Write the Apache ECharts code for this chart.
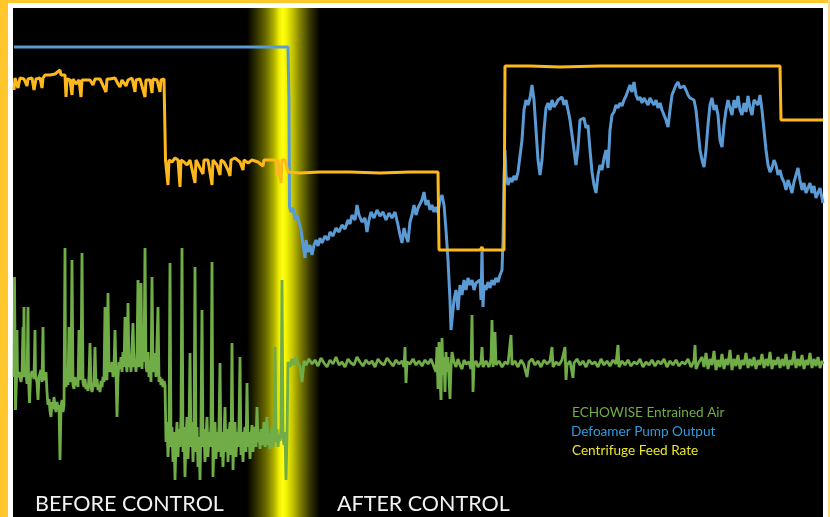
<!DOCTYPE html>
<html>
<head>
<meta charset="utf-8">
<script src="https://cdn.jsdelivr.net/npm/echarts@6/dist/echarts.min.js"></script>
<style>
html,body{margin:0;padding:0;background:#fff;}
#chart{width:830px;height:517px;}
</style>
</head>
<body>
<div id="chart"></div>
<script>
// Time (min) and readings in arbitrary process units
const seriesNames = ['ECHOWISE Entrained Air', 'Defoamer Pump Output', 'Centrifuge Feed Rate'];
const phaseLabels = ['BEFORE CONTROL', 'AFTER CONTROL'];
const controlStart = 233, controlEnd = 306;

const feedRate = [[0,427],[1,439],[3,437],[4,429],[6,439],[10,438],[13,431],[14,438],[18,439],[20,427],[22,438],[26,439],[28,429],[29,439],[31,442],[36,442],[41,443],[46,447],[47,442],[51,442],[52,420],[53,438],[56,437],[58,422],[59,438],[62,433],[65,437],[67,420],[68,437],[70,438],[76,437],[79,432],[81,438],[86,438],[92,425],[93,438],[96,438],[101,439],[104,433],[106,430],[108,437],[112,431],[114,437],[118,439],[121,425],[122,437],[126,438],[131,420],[132,437],[136,437],[138,424],[139,438],[143,437],[146,425],[147,437],[150,438],[151,438],
[151.5,357],[154,332],[155,357],[158,355],[161,359],[164,357],[166,330],[167,357],[170,355],[173,352],[176,357],[181,334],[182,357],[186,349],[189,343],[190,357],[194,357],[198,332],[199,357],[203,352],[206,342],[207,357],[210,355],[214,347],[216,341],[217,357],[221,359],[226,355],[229,347],[230,357],[234,354],[238,357],[244,355],[249,351],[250,357],[254,357],[262,357],[263,341],[264,357],[267,334],[268,357],[271,357],[273,357],
[274,345],[286,344],[306,345],[336,345],[366,344],[396,345],[416,345],[424,345],[425,267],[446,267],[466,267],[468,270],[469,267],[490,267],[491,451],[516,451],[546,450],[586,451],[626,451],[666,451],[706,451],[746,451],[766,451],[767,397],[786,397],[809,397]];

const pumpOutput = [[0,470],[274,470],[275,417],[275.5,310],[277,305],[279,309],[281,297],[283,302],[285,295],[287,287],[289,272],[291,259],[292,277],[294,265],[296,272],[298,262],[300,272],[302,277],[304,271],[306,279],[308,274],[311,281],[314,277],[316,285],[319,281],[322,289],[325,285],[328,292],[331,288],[334,297],[336,293],[338,302],[341,297],[343,312],[345,302],[348,295],[351,299],[353,285],[355,297],[357,305],[360,299],[363,307],[366,301],[369,305],[372,297],[375,304],[378,299],[381,305],[384,292],[386,282],[388,274],[390,289],[392,281],[394,275],[396,295],[398,302],[400,312],[402,302],[404,309],[406,307],[408,317],[410,325],[412,312],[414,317],[416,307],[418,312],[420,305],[422,310],[424,304],[426,317],[428,322],[430,312],[432,287],[434,257],[436,217],[437,187],[438,197],[440,217],[442,227],[444,207],[446,232],[448,222],[450,237],[452,227],[454,239],[456,232],[458,237],[460,227],[462,234],[464,232],[466,237],[467,217],[468,267],[469,210],[470,232],[472,227],[474,235],[476,229],[478,237],[480,232],[482,239],[484,235],[486,242],[488,247],[489,277],[490,337],[491,367],[492,342],[494,332],[496,339],[498,335],[500,341],[502,337],[504,345],[506,347],[508,377],[510,407],[512,417],[514,412],[516,419],[518,432],[520,417],[522,387],[524,357],[526,342],[528,357],[530,387],[532,409],[534,414],[536,407],[538,417],[540,410],[542,413],[544,417],[546,417],[548,420],[550,412],[552,417],[554,407],[556,397],[558,382],[560,367],[562,352],[564,369],[566,397],[568,395],[570,399],[572,389],[574,392],[576,367],[578,345],[580,332],[582,324],[584,342],[586,352],[588,347],[590,359],[592,367],[594,349],[596,387],[598,402],[600,405],[602,412],[604,409],[606,414],[608,411],[610,417],[612,421],[614,419],[616,432],[618,425],[620,435],[622,422],[624,417],[626,420],[628,414],[630,419],[632,417],[634,412],[636,419],[638,415],[640,412],[642,417],[644,409],[646,414],[648,407],[650,405],[652,397],[654,390],[656,407],[658,422],[660,427],[662,432],[664,435],[666,429],[668,427],[670,431],[672,427],[674,422],[676,419],[678,417],[680,417],[682,407],[684,387],[686,367],[688,357],[690,350],[692,367],[694,392],[696,412],[698,419],[700,407],[702,412],[704,402],[706,377],[708,370],[710,392],[712,407],[714,417],[716,409],[718,402],[720,417],[722,409],[724,421],[726,407],[728,402],[730,414],[732,405],[734,421],[736,409],[738,402],[740,417],[742,419],[744,412],[746,422],[748,407],[750,387],[752,367],[754,352],[756,345],[758,349],[760,357],[762,352],[764,342],[766,347],[768,339],[770,335],[772,327],[774,337],[776,331],[778,324],[780,335],[782,342],[784,349],[786,337],[788,327],[790,334],[792,324],[794,329],[796,334],[798,324],[800,331],[802,319],[804,324],[806,329],[808,319],[809,314]];

const entrainedAirBefore = [[0,140],[0.5,240],[1.5,107],[2.5,138],[3,187],[3.5,140],[5,145],[7,135],[8,142],[9,190],[9.5,150],[10,210],[10.5,140],[12,145],[13,133],[14,210],[14.5,138],[15.5,114],[16.5,140],[18,146],[20,138],[21,187],[21.5,142],[23,135],[24,117],[25,140],[27,147],[28,135],[29,190],[29.5,140],[31,137],[32,145],[33,125],
[34,112],[35,118],[36,106],[37,100],[38,115],[39,108],[40,120],[41,110],[42,105],[43,115],[44,108],[45,112],[46,57],[47,110],[48,117],[49,105],[50,112],[51,269],[51.5,137],
[52,130],[53,140],[54,132],[55,190],[56,135],[57,138],[58,257],[59,132],[60,128],[61,140],[62,132],[63,135],[64,130],[65,187],[66,137],[67,142],[68,264],[69,134],[70,130],[71,138],[72,128],[73,132],[74,126],[75,140],[76,174],[77,130],[78,125],[79,124],[80,135],[81,170],[82,130],[83,138],[84,127],[85,132],[86,125],[87,136],[88,130],[89,140],[90,135],[91,210],[92,140],[93,137],[94,224],[95,145],[96,150],
[97,145],[98,155],[99,140],[100,150],[101,187],[102,145],[103,100],[104,140],[105,155],[106,148],[107,160],[108,145],[109,165],[110,150],[111,200],[112,155],[113,145],[114,214],[115,150],[116,160],[117,145],[118,170],[119,194],[120,150],[121,158],[122,145],[123,165],[124,237],[125,150],[126,160],[127,234],[128,148],[129,170],[130,155],[131,269],[132,150],[133,145],[134,165],[135,140],[136,150],[137,135],[138,240],[139,145],[140,150],[141,164],[142,140],[143,138],[144,210],[145,135],[146,140],[147,132],[148,138],[149,130],[150,136],[151,132],
[152,75],[153,95],[154,60],[155,80],[156,254],[157,70],[158,90],[159,55],[160,85],[161,37],[162,75],[163,95],[164,60],[165,88],[166,70],[167,100],[168,269],[169,65],[170,90],[171,40],[172,78],[173,100],[174,58],[175,85],[176,164],[177,70],[178,95],[179,55],[180,80],[181,250],[182,65],[183,90],[184,50],[185,80],[186,37],[187,95],[188,207],[189,70],[190,88],[191,55],[192,80],[193,100],[194,60],[195,85],[196,70],[197,92],[198,255],[199,40],[200,75],[201,95],[202,58],[203,85],[204,65],[205,90],[206,154],[207,60],[208,85],[209,50],[210,78],[211,110],[212,65],[213,88],[214,55],[215,80],[216,95],[217,62],[218,174],[219,47],[220,80],[221,95],[222,60],[223,85],[224,70],[225,92],[226,160],[227,62],[228,85],[229,55],[230,80],[231,90],[232,65],[233,134],[234,70],[235,85],[236,58],[237,80],[238,92],[239,65],
[240,80],[241,90],[242,70],[243,110],[244,75],[245,85],[246,68],[247,88],[248,72],[249,82],[250,95],[251,70],[252,85],[253,100],[254,72],[255,84],[256,68],[257,80],[258,90],[259,70],[260,85],[261,170],[262,75],[263,88],[264,70],[265,82],[266,76],[267,90],[268,237],[269,80],[270,72],[271,85],[272,37],[273,80]];

const entrainedAirAfter = [[274,155],[276,150],[278,158],[280,152],[282,160],[284,154],[286,150],[288,135],[290,156],[292,152],[295,158],[298,153],[301,157],[304,151],[307,159],[310,154],[313,150],[316,157],[319,153],[322,160],[325,152],[328,155],[331,150],[334,158],[337,154],[340,152],[343,160],[346,155],[349,151],[352,157],[355,153],[358,156],[361,150],[364,158],[367,154],[370,152],[373,159],[376,155],[379,151],[382,157],[385,153],[388,156],[390,150],[391,170],[392,134],[393,155],[396,153],[399,158],[402,152],[405,156],[408,151],[411,157],[414,153],[417,158],[420,150],[422,145],[423,170],[424,128],[425,175],[426,140],[427,117],[428,179],[429,142],[430,160],[431,125],[432,165],[433,145],[434,160],[436,118],[437,150],[438,165],[440,155],[442,150],[444,158],[446,152],[448,148],[450,157],[452,153],[455,155],[457,148],[458,202],[459,125],[460,152],[462,156],[464,150],[467,155],[468,170],[469,150],[472,156],[475,150],[477,158],[478,197],[479,150],[481,185],[482,152],[485,156],[488,150],[491,155],[494,153],[497,182],[498,152],[501,156],[504,150],[507,157],[510,152],[513,140],[515,155],[518,158],[521,152],[524,156],[527,150],[530,157],[533,153],[536,156],[538,170],[539,150],[542,155],[545,152],[548,157],[551,170],[552,137],[553,152],[556,156],[559,139],[560,154],[563,158],[566,152],[569,156],[572,150],[575,157],[578,153],[581,155],[584,150],[587,158],[590,152],[593,156],[596,151],[599,157],[602,153],[604,172],[605,150],[608,156],[611,152],[614,157],[617,151],[620,155],[623,153],[626,158],[629,150],[632,155],[635,152],[638,157],[641,151],[644,156],[647,153],[650,158],[653,150],[656,156],[659,152],[662,157],[665,151],[668,155],[671,153],[674,158],[677,150],[680,156],[681,172],[682,148],[685,155],[688,160],[690,150],[692,164],[694,148],[696,158],[698,152],[700,166],[702,147],[704,157],[706,150],[708,163],[710,148],[712,158],[714,152],[716,167],[718,147],[720,158],[722,151],[724,162],[726,148],[728,157],[730,152],[732,164],[734,149],[736,158],[738,151],[740,160],[742,148],[744,157],[746,152],[748,163],[750,149],[752,158],[754,151],[756,165],[758,148],[760,157],[762,152],[764,160],[766,149],[768,158],[770,151],[772,163],[774,148],[776,157],[778,152],[780,166],[782,149],[784,158],[786,151],[788,162],[790,148],[792,157],[794,152],[796,164],[798,149],[800,158],[802,151],[804,160],[806,149],[808,156],[809,153]];

const entrainedAir = entrainedAirBefore.concat(entrainedAirAfter);

const chart = echarts.init(document.getElementById('chart'), null, {renderer: 'canvas'});
const GOLD = '#FFC72C';
const glow = {
  type: 'linear', x: 0, y: 0, x2: 1, y2: 0,
  colorStops: [
    {offset: 0, color: '#000000'},
    {offset: 0.1, color: '#262600'},
    {offset: 0.25, color: '#666600'},
    {offset: 0.37, color: '#b0b000'},
    {offset: 0.44, color: '#eeee00'},
    {offset: 0.49, color: '#ffff10'},
    {offset: 0.54, color: '#f2f200'},
    {offset: 0.63, color: '#c0c000'},
    {offset: 0.74, color: '#7a7a00'},
    {offset: 0.87, color: '#333300'},
    {offset: 1, color: '#000000'}
  ]
};
const baseLine = {type: 'line', showSymbol: false, symbol: 'none', animation: false, sampling: null, silent: true};

chart.setOption({
  backgroundColor: '#ffffff',
  animation: false,
  grid: {left: 13, right: 7, top: 8, bottom: 0, show: true, backgroundColor: '#000000', borderWidth: 0},
  xAxis: {type: 'value', min: -1, max: 809, show: false},
  yAxis: {type: 'value', min: 0, max: 509, show: false},
  series: [
    Object.assign({}, baseLine, {
      name: 'band', data: [], z: 1,
      markArea: {silent: true, itemStyle: {color: glow, opacity: 1}, data: [[{xAxis: controlStart}, {xAxis: controlEnd}]]}
    }),
    Object.assign({}, baseLine, {name: seriesNames[1], data: pumpOutput, z: 3, lineStyle: {color: '#5B9BD5', width: 3}}),
    Object.assign({}, baseLine, {name: seriesNames[2], data: feedRate, z: 4, lineStyle: {color: '#FFB81C', width: 3}}),
    Object.assign({}, baseLine, {name: seriesNames[0], data: entrainedAir, z: 5, lineStyle: {color: '#70AD47', width: 2.8}})
  ],
  graphic: [
    {type: 'rect', left: 0, top: 0, shape: {width: 8, height: 517}, style: {fill: GOLD}, z: 100},
    {type: 'rect', left: 0, top: 0, shape: {width: 830, height: 3}, style: {fill: GOLD}, z: 100},
    {type: 'rect', left: 828, top: 0, shape: {width: 2, height: 517}, style: {fill: '#FFD98A'}, z: 100},
    {type: 'text', x: 35, y: 504, style: {text: phaseLabels[0], fill: '#F2F2F2', font: '21.5px Lato', verticalAlign: 'middle'}, z: 100},
    {type: 'text', x: 337, y: 504, style: {text: phaseLabels[1], fill: '#F2F2F2', font: '21.5px Lato', verticalAlign: 'middle'}, z: 100},
    {type: 'text', x: 572, y: 413, style: {text: seriesNames[0], fill: '#70AD47', font: '13.6px Lato', verticalAlign: 'middle'}, z: 100},
    {type: 'text', x: 571, y: 432, style: {text: seriesNames[1], fill: '#2E9BE0', font: '13.6px Lato', verticalAlign: 'middle'}, z: 100},
    {type: 'text', x: 572, y: 451, style: {text: seriesNames[2], fill: '#E8E62A', font: '13.6px Lato', verticalAlign: 'middle'}, z: 100}
  ]
});
</script>
</body>
</html>
